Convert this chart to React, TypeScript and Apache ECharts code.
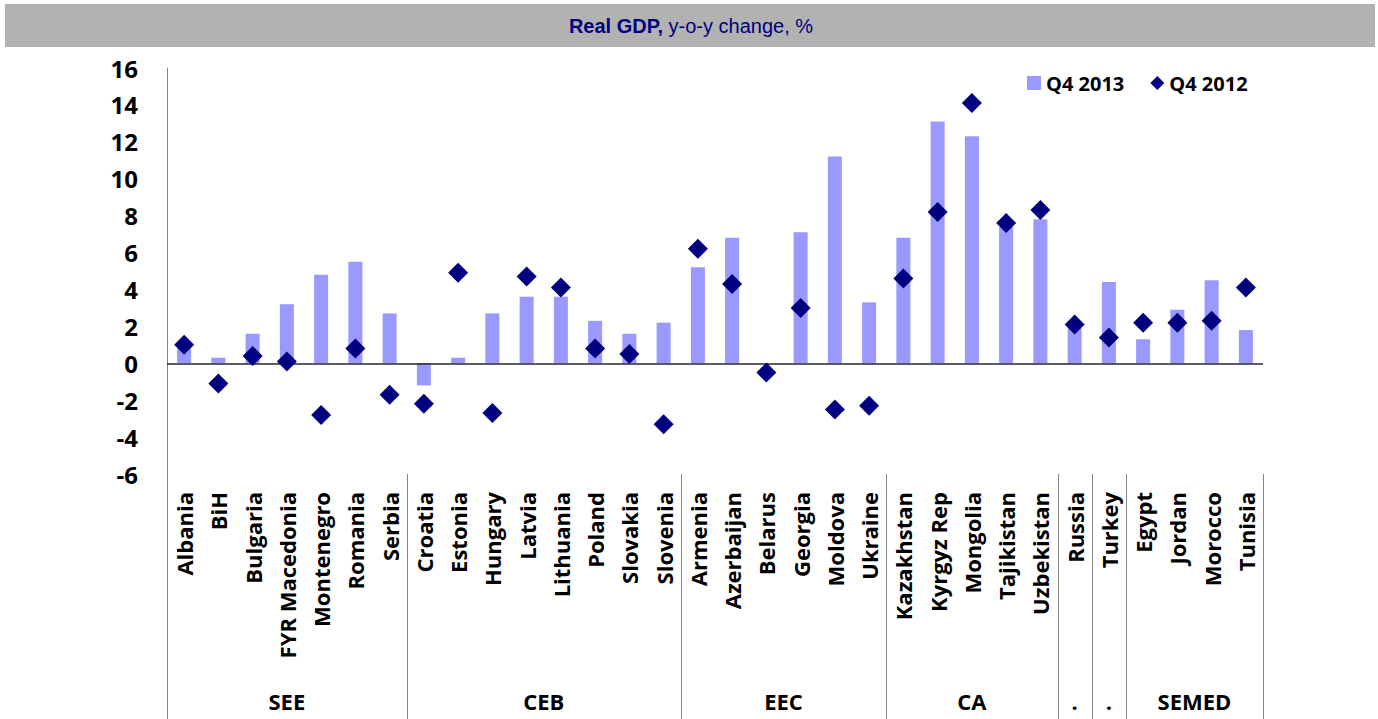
import React, { useEffect, useRef } from "react";
import * as echarts from "echarts";

const categories = [
  "Albania", "BiH", "Bulgaria", "FYR Macedonia", "Montenegro", "Romania", "Serbia",
  "Croatia", "Estonia", "Hungary", "Latvia", "Lithuania", "Poland", "Slovakia", "Slovenia",
  "Armenia", "Azerbaijan", "Belarus", "Georgia", "Moldova", "Ukraine",
  "Kazakhstan", "Kyrgyz Rep", "Mongolia", "Tajikistan", "Uzbekistan",
  "Russia", "Turkey",
  "Egypt", "Jordan", "Morocco", "Tunisia",
];
const groupNames = ["SEE", "CEB", "EEC", "CA", ".", ".", "SEMED"];
const groupSizes = [7, 8, 6, 5, 1, 1, 4];

const q4_2013 = [
  0.8, 0.3, 1.6, 3.2, 4.8, 5.5, 2.7,
  -1.2, 0.3, 2.7, 3.6, 3.6, 2.3, 1.6, 2.2,
  5.2, 6.8, 0, 7.1, 11.2, 3.3,
  6.8, 13.1, 12.3, 7.4, 7.8,
  1.9, 4.4,
  1.3, 2.9, 4.5, 1.8,
];
const q4_2012 = [
  1.0, -1.1, 0.4, 0.1, -2.8, 0.8, -1.7,
  -2.2, 4.9, -2.7, 4.7, 4.1, 0.8, 0.5, -3.3,
  6.2, 4.3, -0.5, 3.0, -2.5, -2.3,
  4.6, 8.2, 14.1, 7.6, 8.3,
  2.1, 1.4,
  2.2, 2.2, 2.3, 4.1,
];
const yTicks = { min: -6, max: 16, interval: 2 };

const FONT = "'Open Sans', sans-serif";

export default function App() {
  const ref = useRef<HTMLDivElement>(null);
  useEffect(() => {
    if (!ref.current) return;
    const chart = echarts.init(ref.current, undefined, { renderer: "svg" });
    const option: any = {
      animation: false,
      backgroundColor: "#ffffff",
      grid: { left: 167, right: 115, top: 68, bottom: 245, containLabel: false },
      legend: {
        left: 1022,
        top: 68,
        itemWidth: 14,
        itemHeight: 14,
        itemGap: 26,
        textStyle: { fontFamily: FONT, fontWeight: "bold", fontSize: 20, color: "#000" },
        data: [
          { name: "Q4 2013", icon: "rect" },
          { name: "Q4 2012", icon: "diamond" },
        ],
      },
      xAxis: {
        type: "category",
        data: categories,
        axisLine: { show: false, onZero: false },
        axisTick: { show: false },
        axisLabel: {
          interval: 0,
          rotate: 90,
          margin: 18,
          fontFamily: FONT,
          fontWeight: "bold",
          fontSize: 22,
          color: "#000",
        },
      },
      yAxis: {
        type: "value",
        min: yTicks.min,
        max: yTicks.max,
        interval: yTicks.interval,
        axisLine: { show: true, lineStyle: { color: "#868686", width: 1 } },
        axisTick: { show: false },
        splitLine: { show: false },
        axisLabel: {
          margin: 29,
          fontFamily: FONT,
          fontWeight: "bold",
          fontSize: 24,
          color: "#000",
        },
      },
      series: [
        {
          name: "Q4 2013",
          type: "bar",
          data: q4_2013,
          barWidth: 14,
          itemStyle: { color: "#9999FF", opacity: 1 },
          z: 2,
          markLine: {
            silent: true,
            symbol: "none",
            label: { show: false },
            lineStyle: { color: "#262626", width: 1.5, type: "solid" },
            data: [{ yAxis: 0 }],
          },
        },
        {
          name: "Q4 2012",
          type: "scatter",
          data: q4_2012,
          symbol: "diamond",
          symbolSize: 20,
          itemStyle: { color: "#000080", opacity: 1 },
          z: 5,
        },
      ],
    };
    chart.setOption(option);

    const c0 = chart.convertToPixel({ xAxisIndex: 0 }, 0) as number;
    const c1 = chart.convertToPixel({ xAxisIndex: 0 }, 1) as number;
    const bw = c1 - c0;
    const yBottom = chart.convertToPixel({ yAxisIndex: 0 }, yTicks.min) as number;
    const graphic: any[] = [
      { type: "rect", shape: { x: 5, y: 4, width: 1370, height: 43 }, style: { fill: "#B2B2B2" }, z: 0 },
      {
        type: "text",
        x: 691,
        y: 26,
        style: {
          text: "{b|Real GDP,}{n| y-o-y change, %}",
          align: "center",
          verticalAlign: "middle",
          rich: {
            b: { fontFamily: "'Liberation Sans', Arial, sans-serif", fontWeight: "bold", fontSize: 20, fill: "#000080" },
            n: { fontFamily: "'Liberation Sans', Arial, sans-serif", fontSize: 20, fill: "#000080" },
          },
        },
        z: 1,
      },
    ];
    let start = 0;
    const boundaries: number[] = [c0 - bw / 2];
    groupNames.forEach((name, gi) => {
      const n = groupSizes[gi];
      const left = c0 + (start - 0.5) * bw;
      const right = c0 + (start + n - 0.5) * bw;
      boundaries.push(right);
      graphic.push({
        type: "text",
        x: (left + right) / 2,
        y: 701,
        style: {
          text: name,
          align: "center",
          verticalAlign: "middle",
          fontFamily: FONT,
          fontWeight: "bold",
          fontSize: 22,
          fill: "#000",
        },
      });
      start += n;
    });
    boundaries.forEach((bx) => {
      graphic.push({
        type: "line",
        shape: { x1: Math.round(bx) + 0.5, y1: yBottom, x2: Math.round(bx) + 0.5, y2: 719 },
        style: { stroke: "#868686", lineWidth: 1 },
      });
    });
    chart.setOption({ graphic });

    return () => chart.dispose();
  }, []);
  return (
    <div
      ref={ref}
      style={{ position: "fixed", left: 0, top: 0, width: 1378, height: 719 }}
    />
  );
}
